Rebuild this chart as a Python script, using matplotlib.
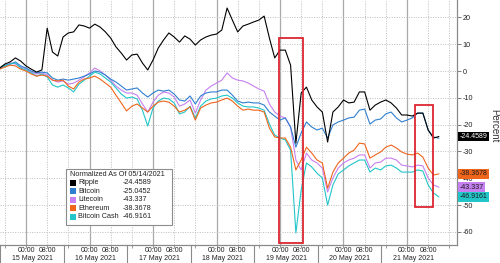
import numpy as np
import pandas as pd
import matplotlib
matplotlib.use('Agg')
import matplotlib.pyplot as plt
import matplotlib.dates as mdates
from matplotlib.patches import Rectangle
from matplotlib.transforms import blended_transform_factory

plt.rcParams['font.family'] = ['Liberation Sans', 'DejaVu Sans']
plt.rcParams['axes.unicode_minus'] = False

# 2-hourly readings, normalized to 05/14/2021 (percent)
times = pd.date_range('2021-05-14 14:00', '2021-05-21 12:00', freq='2h')

ripple = [1.1, 2.6, 3.4, 4.9, 3.7, 1.9, 0.7, -0.4, 0.4, 16.0,
          7.1, 5.6, 12.7, 14.2, 14.6, 17.2, 16.8, 16.0, 17.5, 16.4,
          14.6, 12.3, 9.0, 6.7, 4.1, 6.0, 6.3, 3.0, 0.4, 4.1,
          8.6, 11.6, 14.2, 12.7, 10.8, 13.1, 11.9, 9.7, 11.6, 12.7,
          13.4, 13.8, 15.3, 23.5, 19.0, 14.6, 16.8, 17.5, 18.3, 19.0,
          20.5, 12.3, 4.9, 7.8, 7.8, 2.2, -26.9, -8.2, -6.0, -10.8,
          -13.4, -15.3, -26.5, -15.3, -13.4, -10.8, -11.9, -11.6, -7.8, -7.8,
          -14.6, -12.7, -11.6, -10.8, -11.9, -13.8, -16.4, -16.4, -16.8, -15.7,
          -15.7, -22.0, -25.0, -24.4589]
bitcoin = [1.1, 2.2, 2.6, 3.4, 1.9, 1.1, 0.0, -0.7, -0.4, -0.7,
           -2.6, -3.4, -3.0, -3.4, -3.0, -2.6, -1.9, -1.1, 0.0, -0.4,
           -1.5, -3.0, -4.1, -5.6, -7.1, -6.7, -6.3, -8.2, -9.7, -8.2,
           -7.1, -7.5, -7.1, -8.6, -10.8, -11.2, -9.3, -12.3, -9.3, -8.2,
           -7.8, -7.8, -7.1, -7.1, -9.0, -11.2, -11.9, -11.6, -11.9, -11.9,
           -12.7, -15.3, -16.8, -18.3, -17.5, -20.9, -28.4, -23.1, -19.0, -20.9,
           -22.0, -21.3, -25.0, -20.1, -19.0, -18.3, -17.5, -17.2, -14.6, -14.2,
           -19.8, -18.3, -17.9, -16.0, -15.3, -17.5, -19.0, -18.3, -17.5, -15.7,
           -15.7, -22.0, -24.6, -25.0452]
litecoin = [1.1, 1.9, 3.0, 2.6, 1.5, 0.7, -0.4, -1.1, -0.7, -1.5,
            -3.4, -4.1, -3.7, -4.9, -4.5, -3.4, -2.2, -0.7, 1.1, 0.0,
            -1.5, -3.4, -5.6, -7.1, -8.2, -8.2, -9.0, -12.3, -15.3, -11.6,
            -9.0, -7.8, -8.2, -9.7, -13.1, -12.3, -10.8, -15.7, -10.8, -7.1,
            -5.6, -4.5, -3.4, -0.7, -2.6, -3.4, -3.7, -4.5, -5.6, -6.7,
            -7.5, -12.3, -15.3, -16.8, -17.5, -20.9, -33.2, -36.9, -30.6, -33.2,
            -34.3, -36.2, -45.1, -39.9, -36.2, -34.3, -33.2, -32.5, -31.3, -31.3,
            -36.2, -34.3, -34.0, -32.5, -32.5, -33.2, -35.1, -35.4, -35.8, -35.1,
            -35.4, -39.9, -42.5, -43.337]
ethereum = [0.7, 1.5, 2.2, 1.9, 0.7, 0.0, -1.1, -1.9, -1.5, -1.9,
            -3.4, -3.7, -3.4, -5.6, -6.7, -4.1, -3.0, -2.6, -1.9, -3.0,
            -4.5, -6.0, -9.0, -11.9, -14.9, -13.1, -12.3, -13.8, -15.3, -13.1,
            -11.6, -11.2, -11.6, -13.1, -15.3, -14.6, -13.4, -18.3, -13.8, -12.7,
            -11.9, -11.6, -10.8, -10.1, -11.2, -13.1, -14.6, -14.2, -14.6, -14.6,
            -15.3, -21.3, -24.6, -25.0, -25.0, -28.4, -36.9, -33.2, -28.4, -30.6,
            -33.2, -34.3, -43.7, -37.7, -34.3, -32.5, -30.6, -29.5, -26.9, -27.2,
            -32.5, -31.3, -30.2, -28.4, -27.6, -28.7, -30.2, -31.0, -31.3, -30.6,
            -32.1, -36.2, -38.8, -38.3678]
bitcoin_cash = [0.7, 1.9, 2.6, 3.0, 1.1, 0.4, -0.7, -1.9, -1.1, -2.2,
                -5.2, -6.0, -5.2, -6.3, -7.8, -4.9, -3.4, -1.9, -0.4, -1.1,
                -2.6, -4.1, -6.3, -8.6, -10.1, -9.7, -10.4, -14.6, -20.5, -13.8,
                -11.2, -10.1, -10.4, -11.9, -16.0, -15.3, -13.1, -17.5, -13.1, -11.2,
                -10.4, -10.1, -9.3, -9.0, -10.1, -11.9, -13.1, -13.4, -13.4, -13.8,
                -14.6, -19.8, -23.9, -25.0, -25.7, -29.5, -60.4, -44.4, -34.3, -35.8,
                -38.1, -39.9, -50.0, -42.5, -38.4, -36.9, -35.4, -34.3, -33.2, -33.2,
                -37.7, -36.2, -36.9, -35.4, -35.1, -36.2, -37.7, -37.7, -37.7, -36.9,
                -37.3, -42.5, -45.5, -46.9161]

names = ['Ripple', 'Bitcoin', 'Litecoin', 'Ethereum', 'Bitcoin Cash']
series = [ripple, bitcoin, litecoin, ethereum, bitcoin_cash]
last_txt = ['-24.4589', '-25.0452', '-43.337', '-38.3678', '-46.9161']
colors = ['#000000', '#2f7fd0', '#c680f0', '#f0651c', '#22c5c8']
days = pd.date_range('2021-05-15', '2021-05-21', freq='D')
yticks = list(range(-60, 30, 10))

fig = plt.figure(figsize=(5, 2.63), dpi=100)
ax = fig.add_axes([0, 18/263, 457/500, 245/263])

# draw order: back to front
for k in [2, 1, 4, 3, 0]:
    ax.plot(times, series[k], color=colors[k], lw=0.8, zorder=3)

ax.set_xlim(pd.Timestamp('2021-05-14 14:10'), pd.Timestamp('2021-05-21 18:54'))
ax.set_ylim(-64.9, 26.5)

ax.xaxis.set_major_locator(mdates.HourLocator(byhour=[0]))
ax.xaxis.set_minor_locator(mdates.HourLocator(byhour=[8, 16]))
ax.xaxis.set_major_formatter(plt.NullFormatter())
ax.grid(True, which='major', axis='x', color='#a9a9a9', lw=0.9, ls='-')
ax.grid(True, which='minor', axis='x', color='#bdbdbd', lw=0.7, ls=(0, (1, 1.5)))
ax.grid(True, which='major', axis='y', color='#bdbdbd', lw=0.7, ls=(0, (1, 1.5)))
ax.tick_params(axis='x', which='both', length=2, width=0.6, color='#888888')

ax.yaxis.tick_right()
ax.set_yticks(yticks)
ax.set_yticklabels([str(v) for v in yticks])
ax.tick_params(axis='y', length=3, width=0.6, color='#666666', labelsize=5.2,
               pad=1.2, labelcolor='#222222')

for s in ['left', 'top']:
    ax.spines[s].set_visible(False)
for s in ['right', 'bottom']:
    ax.spines[s].set_color('#8a8a8a')
    ax.spines[s].set_linewidth(0.9)

# two-row date axis
bt = blended_transform_factory(ax.transData, ax.transAxes)
for d in days:
    for hh, lab in [(0, '00:00'), (8, '08:00')]:
        ax.text(d + pd.Timedelta(hours=hh), -0.022, lab, transform=bt, ha='center',
                va='center', fontsize=5.0, color='#222222', clip_on=False)
    ax.text(d + pd.Timedelta(hours=2.3), -0.054, d.strftime('%-d %b %Y'), transform=bt,
            ha='center', va='center', fontsize=5.0, color='#222222', clip_on=False)
    sep = mdates.date2num(d - pd.Timedelta(hours=9.7))
    ax.plot([sep, sep], [0, -0.08], transform=bt, color='#8a8a8a', lw=0.8, clip_on=False)

# highlight boxes
boxes = [('2021-05-18 23:36', '2021-05-19 08:42', -64.2, 12.3),
         ('2021-05-21 03:00', '2021-05-21 09:48', -50.7, -12.7)]
for t0, t1, y0, y1 in boxes:
    x0 = mdates.date2num(pd.Timestamp(t0))
    x1 = mdates.date2num(pd.Timestamp(t1))
    ax.add_patch(Rectangle((x0, y0), x1 - x0, y1 - y0, fill=False,
                           ec='#dc2630', lw=1.3, zorder=5))

# last-value tags on the right
rt = blended_transform_factory(ax.transAxes, ax.transData)
for k in [3, 2, 4, 0]:
    ax.text(1.006, series[k][-1], last_txt[k], transform=rt, ha='left', va='center',
            fontsize=5.0, color='white' if k == 0 else '#1a1a1a', clip_on=False,
            bbox=dict(boxstyle='square,pad=0.18', fc=colors[k], ec='none'), zorder=6)

fig.text(494/500, 1 - 126/263, 'Percent', rotation=270, ha='center', va='center',
         fontsize=7, color='#333333')

# legend box
def fp(x, y):
    return x / 500, 1 - y / 263

lx, ly = fp(66, 225)
fig.add_artist(Rectangle((lx, ly), 106/500, 56/263, transform=fig.transFigure,
                         fc='white', ec='#8c8c8c', lw=0.8, zorder=4))
fig.text(*fp(70, 175), 'Normalized As Of 05/14/2021', fontsize=5.2, va='center',
         ha='left', color='#222222', zorder=5)
for k in range(len(names)):
    yy = 183 + 8.4 * k
    sx, sy = fp(70, yy + 3)
    fig.add_artist(Rectangle((sx, sy), 6/500, 6/263, transform=fig.transFigure,
                             fc=colors[k], ec='none', zorder=5))
    fig.text(*fp(78, yy), names[k], fontsize=5.2, va='center', ha='left',
             color='#222222', zorder=5)
    fig.text(*fp(123, yy), last_txt[k], fontsize=5.2, va='center', ha='left',
             color='#222222', zorder=5)

fig.savefig('out.png', dpi=100)
